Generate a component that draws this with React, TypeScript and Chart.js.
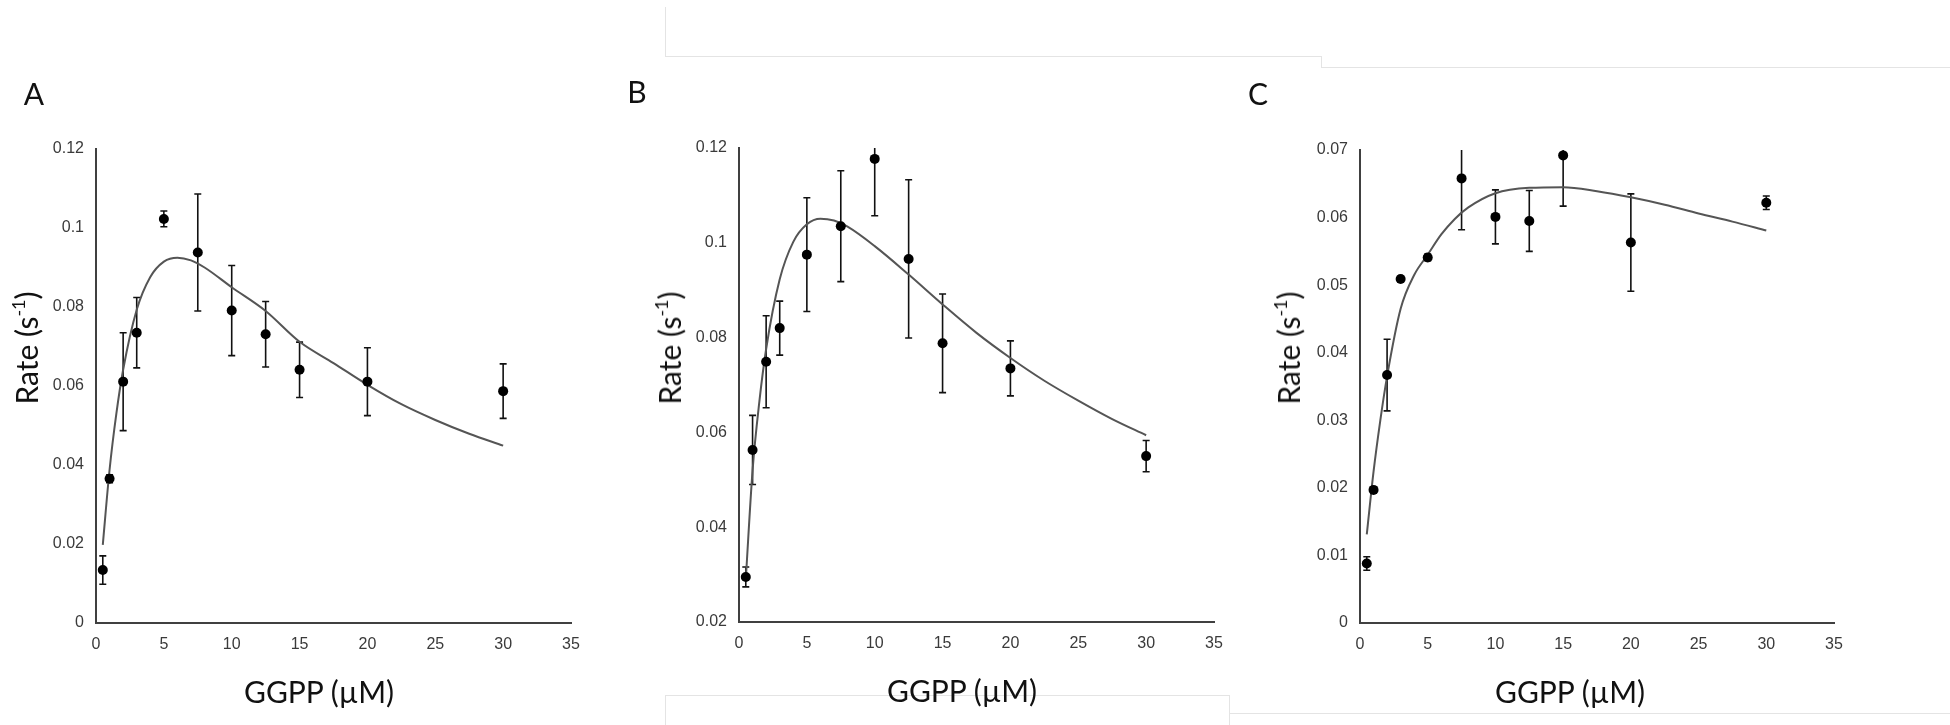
import React, { useEffect, useRef } from 'react';
import { Chart, registerables } from 'chart.js';

Chart.register(...registerables);

// ---- data ----
const ggpp = [0.5, 1, 2, 3, 5, 7.5, 10, 12.5, 15, 20, 30];

const rateA = [0.0134, 0.0365, 0.0611, 0.0735, 0.1023, 0.0938, 0.0791, 0.0731, 0.0641, 0.0611, 0.0587];
const errA = [0.0036, 0.001, 0.0124, 0.0089, 0.002, 0.0148, 0.0114, 0.0083, 0.007, 0.0086, 0.0069];

const rateB = [0.0295, 0.0563, 0.0749, 0.082, 0.0975, 0.1035, 0.1177, 0.0966, 0.0788, 0.0735, 0.055];
const errB = [0.0021, 0.0073, 0.0097, 0.0057, 0.012, 0.0117, 0.012, 0.0167, 0.0104, 0.0058, 0.0033];

const rateC = [0.0088, 0.0197, 0.0367, 0.0509, 0.0541, 0.0658, 0.0601, 0.0595, 0.0692, 0.0563, 0.0622];
const errC = [0.001, 0.0004, 0.0053, 0.0004, 0.0005, 0.0076, 0.004, 0.0045, 0.0075, 0.0072, 0.001];

const fitX = [0.5, 1, 1.5, 2, 3, 4, 5, 6, 7, 8, 10, 12.5, 15, 17.5, 20, 22.5, 25, 27.5, 30];
const fitA = [0.0198, 0.0388, 0.053, 0.0641, 0.0793, 0.0876, 0.0915, 0.0925, 0.0918, 0.09, 0.085, 0.079, 0.0712, 0.0658, 0.0603, 0.0554, 0.0514, 0.0479, 0.0449];
const fitB = [0.029, 0.052, 0.0665, 0.0776, 0.0923, 0.1002, 0.1039, 0.1051, 0.1047, 0.1034, 0.0993, 0.0933, 0.087, 0.081, 0.0757, 0.0709, 0.0667, 0.0628, 0.0594];
const fitC = [0.0131, 0.0224, 0.03, 0.0365, 0.0465, 0.0515, 0.0545, 0.0575, 0.0598, 0.0615, 0.0636, 0.0644, 0.0645, 0.0639, 0.063, 0.0619, 0.0606, 0.0594, 0.0581];

const xTicks = [0, 5, 10, 15, 20, 25, 30, 35];
const yTicksA = [0, 0.02, 0.04, 0.06, 0.08, 0.1, 0.12];
const yTicksB = [0.02, 0.04, 0.06, 0.08, 0.1, 0.12];
const yTicksC = [0, 0.01, 0.02, 0.03, 0.04, 0.05, 0.06, 0.07];

const panelLetters = ['A', 'B', 'C'];
const xTitle = 'GGPP (µM)';

// ---- layout (pixel geometry, separate from data) ----
const W = 1950;
const H = 725;
const Y_SCALE_W = 60;
const X_SCALE_H = 50;

const layouts = [
  { left: 0, width: 620, area: { l: 96, r: 571, t: 149, b: 623 }, letter: [34, 93], xt: [319, 691], yt: [26, 348] },
  { left: 620, width: 620, area: { l: 739, r: 1214, t: 148, b: 622 }, letter: [637, 91], xt: [962, 690], yt: [669, 348] },
  { left: 1240, width: 710, area: { l: 1360, r: 1834, t: 150, b: 623 }, letter: [1258, 93], xt: [1570, 691], yt: [1288, 348] },
];

const panelsData = [
  { rate: rateA, err: errA, fit: fitA, yTicks: yTicksA },
  { rate: rateB, err: errB, fit: fitB, yTicks: yTicksB },
  { rate: rateC, err: errC, fit: fitC, yTicks: yTicksC },
];

const tickFont = { family: '"Liberation Sans", Arial, sans-serif', size: 16 };
const tickColor = '#3a3a3a';
const titleFont = 'Lato, "Open Sans", sans-serif';

function Panel({ idx }: { idx: number }) {
  const ref = useRef<HTMLCanvasElement | null>(null);
  const lay = layouts[idx];
  const d = panelsData[idx];

  useEffect(() => {
    if (!ref.current) return;
    const yMin = d.yTicks[0];
    const yMax = d.yTicks[d.yTicks.length - 1];

    const errorBars = {
      id: 'errorBars' + idx,
      beforeDatasetsDraw(chart: any) {
        const { ctx, chartArea, scales } = chart;
        const xs = scales.x;
        const ys = scales.y;
        ctx.save();
        ctx.beginPath();
        ctx.rect(chartArea.left, chartArea.top, chartArea.right - chartArea.left, chartArea.bottom - chartArea.top);
        ctx.clip();
        ctx.strokeStyle = '#111';
        ctx.lineWidth = 1.6;
        ggpp.forEach((xv, i) => {
          const px = xs.getPixelForValue(xv);
          const top = ys.getPixelForValue(d.rate[i] + d.err[i]);
          const bot = ys.getPixelForValue(d.rate[i] - d.err[i]);
          ctx.beginPath();
          ctx.moveTo(px, top);
          ctx.lineTo(px, bot);
          ctx.moveTo(px - 3.5, top);
          ctx.lineTo(px + 3.5, top);
          ctx.moveTo(px - 3.5, bot);
          ctx.lineTo(px + 3.5, bot);
          ctx.stroke();
        });
        ctx.restore();
      },
    };

    const a = lay.area;
    const chart = new Chart(ref.current, {
      type: 'scatter',
      data: {
        datasets: [
          {
            type: 'line',
            data: fitX.map((x, i) => ({ x, y: d.fit[i] })),
            borderColor: '#555555',
            borderWidth: 2,
            pointRadius: 0,
            cubicInterpolationMode: 'monotone',
            fill: false,
            order: 2,
          } as any,
          {
            type: 'scatter',
            data: ggpp.map((x, i) => ({ x, y: d.rate[i] })),
            backgroundColor: '#000',
            borderColor: '#000',
            borderWidth: 0,
            pointRadius: 5,
            clip: false,
            order: 1,
          } as any,
        ],
      },
      options: {
        responsive: false,
        animation: false,
        devicePixelRatio: 1,
        events: [],
        layout: {
          padding: {
            left: a.l - lay.left - Y_SCALE_W,
            right: lay.left + lay.width - a.r,
            top: a.t,
            bottom: H - a.b - X_SCALE_H,
          },
        },
        plugins: {
          legend: { display: false },
          tooltip: { enabled: false },
          title: { display: false },
        },
        scales: {
          x: {
            type: 'linear',
            min: 0,
            max: 35,
            afterBuildTicks: (s: any) => {
              s.ticks = xTicks.map((v) => ({ value: v }));
            },
            afterFit: (s: any) => {
              s.height = X_SCALE_H;
            },
            grid: { display: false, drawTicks: false },
            border: { display: true, color: '#404040', width: 2 },
            ticks: {
              padding: 12,
              color: tickColor,
              font: tickFont,
              autoSkip: false,
              maxRotation: 0,
              callback: (v: any) => String(v),
            },
          },
          y: {
            type: 'linear',
            min: yMin,
            max: yMax,
            afterBuildTicks: (s: any) => {
              s.ticks = d.yTicks.map((v) => ({ value: v }));
            },
            afterFit: (s: any) => {
              s.width = Y_SCALE_W;
            },
            grid: { display: false, drawTicks: false },
            border: { display: true, color: '#404040', width: 2 },
            ticks: {
              padding: 12,
              color: tickColor,
              font: tickFont,
              autoSkip: false,
              callback: (v: any) => String(Number(Number(v).toFixed(4))),
            },
          },
        },
      } as any,
      plugins: [errorBars],
    });
    return () => chart.destroy();
  }, [idx]);

  return (
    <canvas
      ref={ref}
      width={lay.width}
      height={H}
      style={{ position: 'absolute', left: lay.left, top: 0, width: lay.width, height: H }}
    />
  );
}

const textBase: React.CSSProperties = {
  position: 'absolute',
  fontFamily: titleFont,
  fontSize: 30,
  lineHeight: 1,
  color: '#111',
  whiteSpace: 'nowrap',
};

const faint = '#e4e4e4';

export default function App() {
  return (
    <div style={{ position: 'absolute', left: 0, top: 0, width: W, height: H, background: '#fff', overflow: 'hidden' }}>
      {/* faint slide-frame remnants */}
      <div style={{ position: 'absolute', left: 665, top: 7, width: 1, height: 49, background: faint }} />
      <div style={{ position: 'absolute', left: 665, top: 56, width: 656, height: 1, background: faint }} />
      <div style={{ position: 'absolute', left: 1321, top: 56, width: 1, height: 11, background: faint }} />
      <div style={{ position: 'absolute', left: 1321, top: 67, width: 629, height: 1, background: faint }} />
      <div style={{ position: 'absolute', left: 665, top: 695, width: 564, height: 1, background: faint }} />
      <div style={{ position: 'absolute', left: 665, top: 695, width: 1, height: 30, background: faint }} />
      <div style={{ position: 'absolute', left: 1229, top: 695, width: 1, height: 30, background: faint }} />
      <div style={{ position: 'absolute', left: 1229, top: 713, width: 721, height: 1, background: faint }} />

      {layouts.map((lay, i) => (
        <Panel key={i} idx={i} />
      ))}

      {layouts.map((lay, i) => (
        <React.Fragment key={'t' + i}>
          <div style={{ ...textBase, left: lay.letter[0], top: lay.letter[1], transform: 'translate(-50%, -50%)' }}>
            {panelLetters[i]}
          </div>
          <div style={{ ...textBase, left: lay.xt[0], top: lay.xt[1], transform: 'translate(-50%, -50%)' }}>{xTitle}</div>
          <div
            style={{
              ...textBase,
              left: lay.yt[0],
              top: lay.yt[1],
              transform: 'translate(-50%, -50%) rotate(-90deg)',
            }}
          >
            Rate (s<sup style={{ fontSize: '0.6em', verticalAlign: '0.7em', lineHeight: 0 }}>-1</sup>)
          </div>
        </React.Fragment>
      ))}
    </div>
  );
}
